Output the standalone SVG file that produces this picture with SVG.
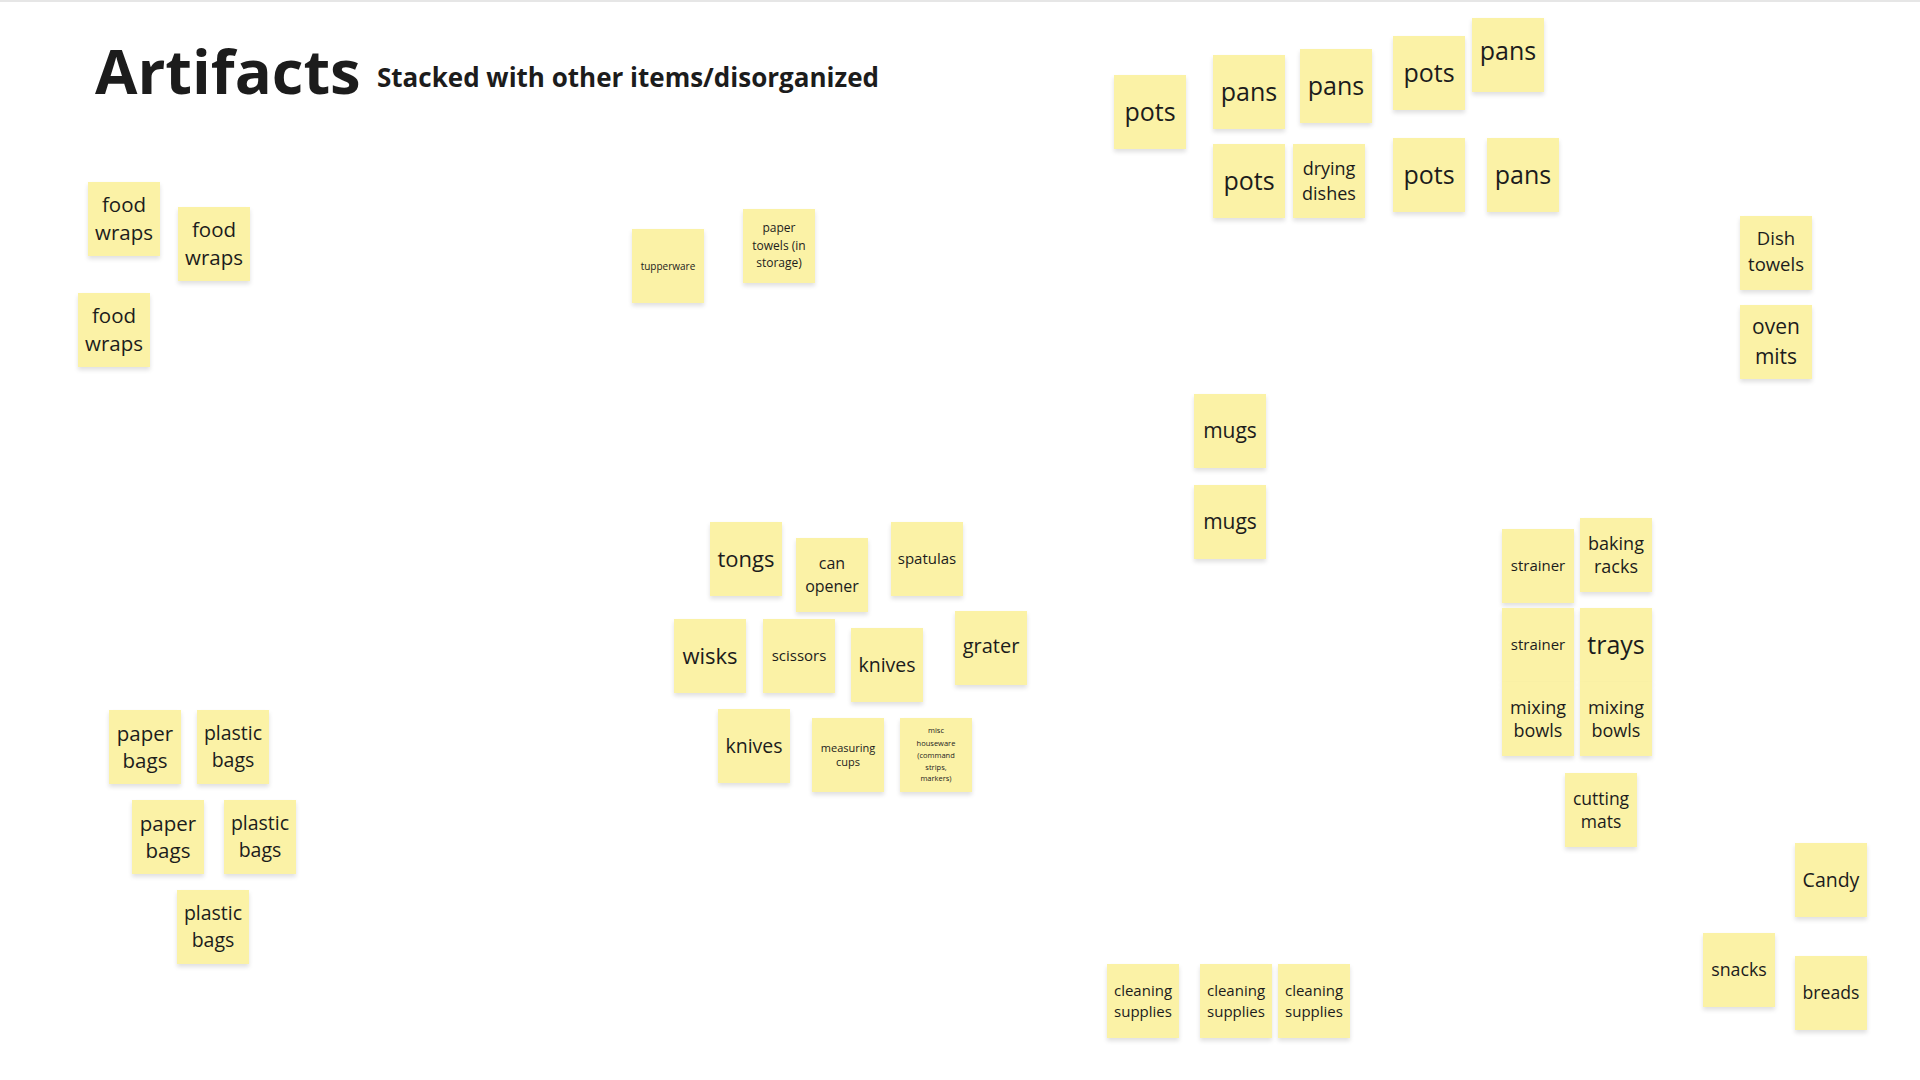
<svg xmlns="http://www.w3.org/2000/svg" width="1920" height="1080" viewBox="0 0 1920 1080">
<defs>
<filter id="sh" x="-20%" y="-20%" width="140%" height="150%">
<feDropShadow dx="0" dy="3" stdDeviation="2" flood-color="#000" flood-opacity="0.12"/>
</filter>
</defs>
<style>
.s{fill:#FBF2A6;filter:url(#sh)}
.t{font-family:"Open Sans","Noto Sans",sans-serif;fill:#1c1c1c;text-anchor:middle}
.h{font-family:"Open Sans","Noto Sans",sans-serif;fill:#1c1c1c;font-weight:700}
</style>
<rect x="0" y="0" width="1920" height="1080" fill="#ffffff"/>
<rect x="0" y="0" width="1920" height="2" fill="#e6e6e6"/>
<g id="title">
<text class="h" x="95" y="94" font-size="61.5">Artifacts</text>
<text class="h" x="377" y="87" font-size="26">Stacked with other items/disorganized</text>
</g>
<g id="connectors"></g>

<g id="food-wraps-1" transform="translate(88,182)"><rect class="s" width="72" height="74"/><text class="t" font-size="20.5"><tspan x="36" y="30">food</tspan><tspan x="36" y="58">wraps</tspan></text></g>
<g id="food-wraps-2" transform="translate(178,207)"><rect class="s" width="72" height="74"/><text class="t" font-size="20.5"><tspan x="36" y="30">food</tspan><tspan x="36" y="58">wraps</tspan></text></g>
<g id="food-wraps-3" transform="translate(78,293)"><rect class="s" width="72" height="74"/><text class="t" font-size="20.5"><tspan x="36" y="30">food</tspan><tspan x="36" y="58">wraps</tspan></text></g>

<g id="tupperware" transform="translate(632,229)"><rect class="s" width="72" height="74"/><text class="t" font-size="10" x="36" y="40.5">tupperware</text></g>
<g id="paper-towels" transform="translate(743,209)"><rect class="s" width="72" height="74"/><text class="t" font-size="12"><tspan x="36" y="23">paper</tspan><tspan x="36" y="40.5">towels (in</tspan><tspan x="36" y="58">storage)</tspan></text></g>

<g id="pots-1" transform="translate(1114,75)"><rect class="s" width="72" height="74"/><text class="t" font-size="25" x="36" y="46">pots</text></g>
<g id="pans-1" transform="translate(1213,55)"><rect class="s" width="72" height="74"/><text class="t" font-size="25" x="36" y="46">pans</text></g>
<g id="pans-2" transform="translate(1300,49)"><rect class="s" width="72" height="74"/><text class="t" font-size="25" x="36" y="46">pans</text></g>
<g id="pots-2" transform="translate(1393,36)"><rect class="s" width="72" height="74"/><text class="t" font-size="25" x="36" y="46">pots</text></g>
<g id="pans-3" transform="translate(1472,18)"><rect class="s" width="72" height="74"/><text class="t" font-size="25" x="36" y="42">pans</text></g>
<g id="pots-3" transform="translate(1213,144)"><rect class="s" width="72" height="74"/><text class="t" font-size="25" x="36" y="46">pots</text></g>
<g id="drying-dishes" transform="translate(1293,144)"><rect class="s" width="72" height="74"/><text class="t" font-size="18"><tspan x="36" y="31">drying</tspan><tspan x="36" y="55.5">dishes</tspan></text></g>
<g id="pots-4" transform="translate(1393,138)"><rect class="s" width="72" height="74"/><text class="t" font-size="25" x="36" y="46">pots</text></g>
<g id="pans-4" transform="translate(1487,138)"><rect class="s" width="72" height="74"/><text class="t" font-size="25" x="36" y="46">pans</text></g>

<g id="dish-towels" transform="translate(1740,216)"><rect class="s" width="72" height="74"/><text class="t" font-size="18.5"><tspan x="36" y="29">Dish</tspan><tspan x="36" y="55">towels</tspan></text></g>
<g id="oven-mits" transform="translate(1740,305)"><rect class="s" width="72" height="74"/><text class="t" font-size="21"><tspan x="36" y="29.4">oven</tspan><tspan x="36" y="59.4">mits</tspan></text></g>

<g id="mugs-1" transform="translate(1194,394)"><rect class="s" width="72" height="74"/><text class="t" font-size="21" x="36" y="44.4">mugs</text></g>
<g id="mugs-2" transform="translate(1194,485)"><rect class="s" width="72" height="74"/><text class="t" font-size="21" x="36" y="44.4">mugs</text></g>

<g id="tongs" transform="translate(710,522)"><rect class="s" width="72" height="74"/><text class="t" font-size="22" x="36" y="44.7">tongs</text></g>
<g id="can-opener" transform="translate(796,538)"><rect class="s" width="72" height="74"/><text class="t" font-size="16"><tspan x="36" y="31.1">can</tspan><tspan x="36" y="54.1">opener</tspan></text></g>
<g id="spatulas" transform="translate(891,522)"><rect class="s" width="72" height="74"/><text class="t" font-size="15" x="36" y="42.25">spatulas</text></g>
<g id="wisks" transform="translate(674,619)"><rect class="s" width="72" height="74"/><text class="t" font-size="22" x="36" y="44.7">wisks</text></g>
<g id="scissors" transform="translate(763,619)"><rect class="s" width="72" height="74"/><text class="t" font-size="15" x="36" y="42.25">scissors</text></g>
<g id="knives-1" transform="translate(851,628)"><rect class="s" width="72" height="74"/><text class="t" font-size="19.5" x="36" y="43.8">knives</text></g>
<g id="grater" transform="translate(955,611)"><rect class="s" width="72" height="74"/><text class="t" font-size="20" x="36" y="42">grater</text></g>
<g id="knives-2" transform="translate(718,709)"><rect class="s" width="72" height="74"/><text class="t" font-size="19.5" x="36" y="43.8">knives</text></g>
<g id="measuring-cups" transform="translate(812,718)"><rect class="s" width="72" height="74"/><text class="t" font-size="11"><tspan x="36" y="33.7">measuring</tspan><tspan x="36" y="48">cups</tspan></text></g>
<g id="misc-houseware" transform="translate(900,718)"><rect class="s" width="72" height="74"/><text class="t" font-size="7.5"><tspan x="36" y="14.6">misc</tspan><tspan x="36" y="27.6">houseware</tspan><tspan x="36" y="39.6">(command</tspan><tspan x="36" y="51.6">strips,</tspan><tspan x="36" y="63">markers)</tspan></text></g>

<g id="strainer-1" transform="translate(1502,529)"><rect class="s" width="72" height="74"/><text class="t" font-size="15" x="36" y="42.25">strainer</text></g>
<g id="baking-racks" transform="translate(1580,518)"><rect class="s" width="72" height="74"/><text class="t" font-size="18"><tspan x="36" y="31.8">baking</tspan><tspan x="36" y="54.8">racks</tspan></text></g>
<g id="strainer-2" transform="translate(1502,608)"><rect class="s" width="72" height="74"/><text class="t" font-size="15" x="36" y="42.25">strainer</text></g>
<g id="trays" transform="translate(1580,608)"><rect class="s" width="72" height="74"/><text class="t" font-size="25" x="36" y="46">trays</text></g>
<g id="mixing-bowls-1" transform="translate(1502,682)"><rect class="s" width="72" height="74"/><text class="t" font-size="18"><tspan x="36" y="31.8">mixing</tspan><tspan x="36" y="54.8">bowls</tspan></text></g>
<g id="mixing-bowls-2" transform="translate(1580,682)"><rect class="s" width="72" height="74"/><text class="t" font-size="18"><tspan x="36" y="31.8">mixing</tspan><tspan x="36" y="54.8">bowls</tspan></text></g>
<g id="cutting-mats" transform="translate(1565,773)"><rect class="s" width="72" height="74"/><text class="t" font-size="17.5"><tspan x="36" y="31.6">cutting</tspan><tspan x="36" y="54.6">mats</tspan></text></g>

<g id="candy" transform="translate(1795,843)"><rect class="s" width="72" height="74"/><text class="t" font-size="19.5" x="36" y="43.8">Candy</text></g>
<g id="snacks" transform="translate(1703,933)"><rect class="s" width="72" height="74"/><text class="t" font-size="17.8" x="36" y="43.2">snacks</text></g>
<g id="breads" transform="translate(1795,956)"><rect class="s" width="72" height="74"/><text class="t" font-size="17.6" x="36" y="43.2">breads</text></g>

<g id="paper-bags-1" transform="translate(109,710)"><rect class="s" width="72" height="74"/><text class="t" font-size="20.5"><tspan x="36" y="30.7">paper</tspan><tspan x="36" y="57.7">bags</tspan></text></g>
<g id="plastic-bags-1" transform="translate(197,710)"><rect class="s" width="72" height="74"/><text class="t" font-size="19.5"><tspan x="36" y="30.3">plastic</tspan><tspan x="36" y="57.3">bags</tspan></text></g>
<g id="paper-bags-2" transform="translate(132,800)"><rect class="s" width="72" height="74"/><text class="t" font-size="20.5"><tspan x="36" y="30.7">paper</tspan><tspan x="36" y="57.7">bags</tspan></text></g>
<g id="plastic-bags-2" transform="translate(224,800)"><rect class="s" width="72" height="74"/><text class="t" font-size="19.5"><tspan x="36" y="30.3">plastic</tspan><tspan x="36" y="57.3">bags</tspan></text></g>
<g id="plastic-bags-3" transform="translate(177,890)"><rect class="s" width="72" height="74"/><text class="t" font-size="19.5"><tspan x="36" y="30.3">plastic</tspan><tspan x="36" y="57.3">bags</tspan></text></g>

<g id="cleaning-1" transform="translate(1107,964)"><rect class="s" width="72" height="74"/><text class="t" font-size="15"><tspan x="36" y="31.75">cleaning</tspan><tspan x="36" y="52.75">supplies</tspan></text></g>
<g id="cleaning-2" transform="translate(1200,964)"><rect class="s" width="72" height="74"/><text class="t" font-size="15"><tspan x="36" y="31.75">cleaning</tspan><tspan x="36" y="52.75">supplies</tspan></text></g>
<g id="cleaning-3" transform="translate(1278,964)"><rect class="s" width="72" height="74"/><text class="t" font-size="15"><tspan x="36" y="31.75">cleaning</tspan><tspan x="36" y="52.75">supplies</tspan></text></g>
</svg>
